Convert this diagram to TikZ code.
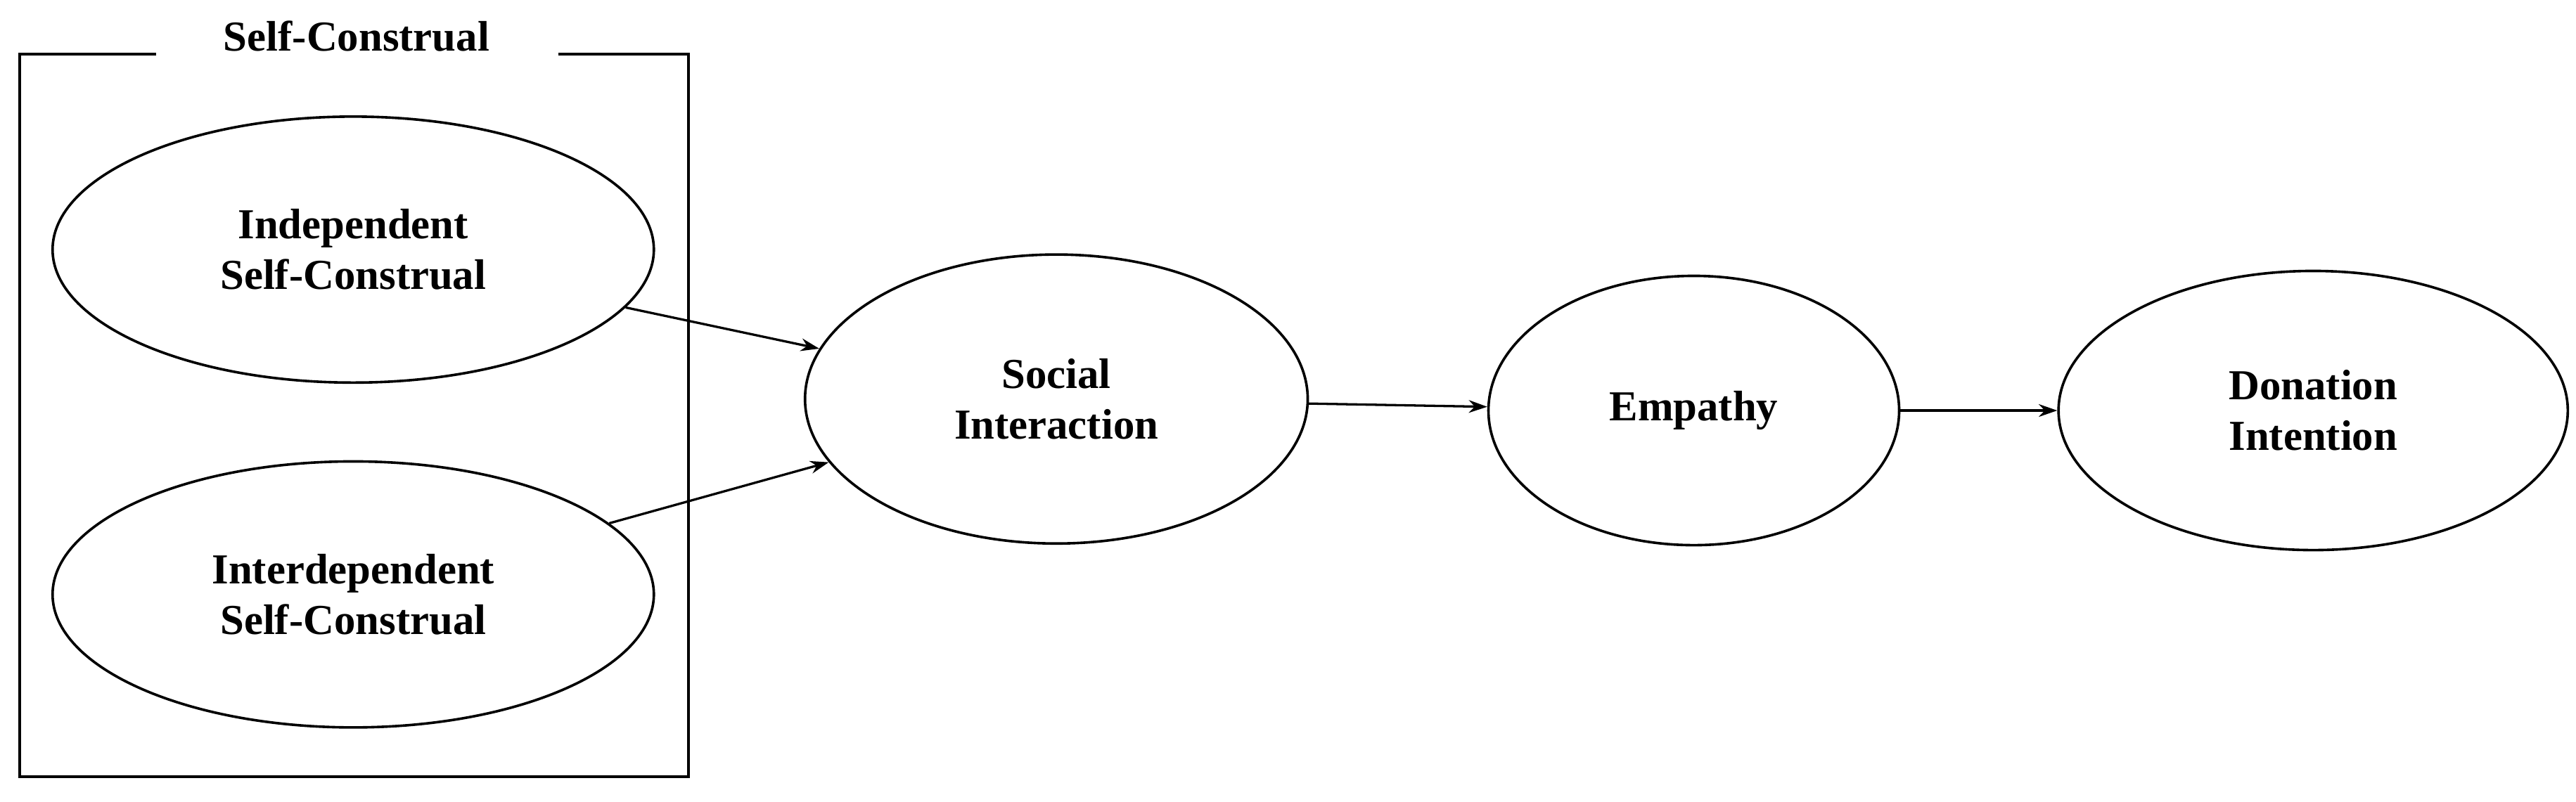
\documentclass[tikz,border=0pt]{standalone}
\usepackage{fontspec}
\setmainfont{Liberation Serif}
\usetikzlibrary{shapes.geometric,arrows.meta}
\begin{document}
\begin{tikzpicture}[x=0.05cm,y=-0.05cm,
  ell/.style={draw,ellipse,line width=2.2pt,inner sep=0pt,align=center,font=\fontsize{37}{44}\selectfont\bfseries},
  arr/.style={line width=2pt,-{Stealth[length=16pt,width=11pt]}}]
\useasboundingbox (0,0) rectangle (1568,488);
\draw[line width=2.2pt] (95,33) -- (12,33) -- (12,473) -- (419,473) -- (419,33) -- (340,33);
\node[font=\fontsize{37}{44}\selectfont\bfseries] (t) at (217,22) {Self-Construal};
\node[ell,minimum width=366*0.05cm,minimum height=162*0.05cm] (i1) at (215,152) {Independent\\Self-Construal};
\node[ell,minimum width=366*0.05cm,minimum height=162*0.05cm] (i2) at (215,362) {Interdependent\\Self-Construal};
\node[ell,minimum width=306*0.05cm,minimum height=176*0.05cm] (s) at (643,243) {Social\\Interaction};
\node[ell,minimum width=250*0.05cm,minimum height=164*0.05cm] (e) at (1031,250) {Empathy};
\node[ell,minimum width=310*0.05cm,minimum height=170*0.05cm] (d) at (1408,250) {Donation\\Intention};
\draw[arr] (i1) -- (s);
\draw[arr] (i2) -- (s);
\draw[arr] (s) -- (e);
\draw[arr] (e) -- (d);
\end{tikzpicture}
\end{document}
